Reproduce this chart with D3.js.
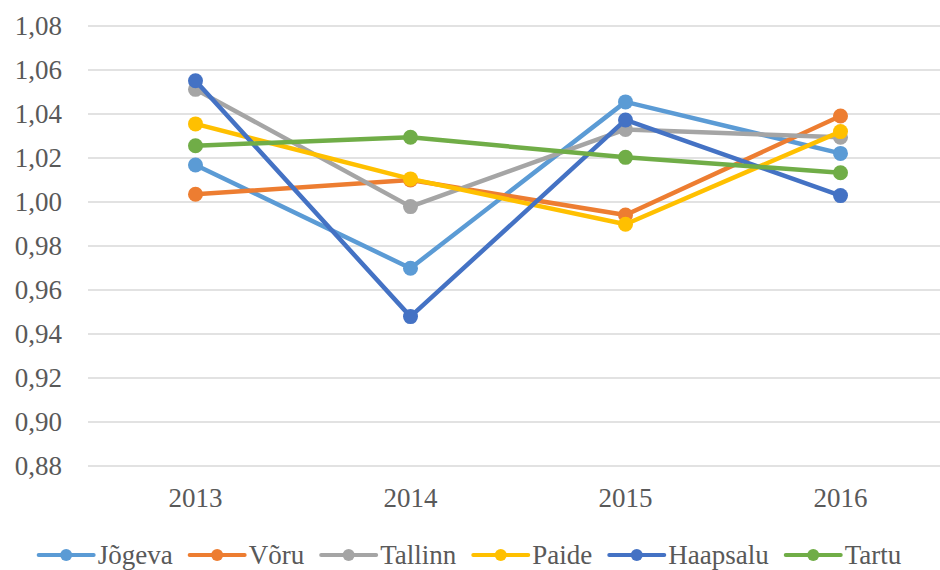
<!DOCTYPE html>
<html><head><meta charset="utf-8">
<script src="https://cdn.jsdelivr.net/npm/d3@7"></script>
<style>
html,body{margin:0;padding:0;background:#fff;}
#wrap{position:relative;width:940px;height:570px;overflow:hidden;}
#wrap svg{position:absolute;left:0;top:0;}
.lbl{position:absolute;font-family:"Liberation Serif",serif;font-size:27px;line-height:27px;color:#595959;white-space:nowrap;}
</style>
</head><body>
<div id="wrap"><svg id="chart" width="940" height="570"></svg></div>
<script>
const years = ["2013", "2014", "2015", "2016"];
const yTicks = [0.88, 0.90, 0.92, 0.94, 0.96, 0.98, 1.00, 1.02, 1.04, 1.06, 1.08];
const seriesNames = ["Jõgeva", "Võru", "Tallinn", "Paide", "Haapsalu", "Tartu"];
const seriesColors = ["#5B9BD5", "#ED7D31", "#A5A5A5", "#FFC000", "#4472C4", "#70AD47"];
const jogeva = [1.0168, 0.9699, 1.0455, 1.0221];
const voru = [1.0035, 1.0100, 0.9941, 1.0391];
const tallinn = [1.0512, 0.9979, 1.0330, 1.0294];
const paide = [1.0355, 1.0105, 0.9899, 1.0320];
const haapsalu = [1.0551, 0.9479, 1.0373, 1.0029];
const tartu = [1.0256, 1.0294, 1.0203, 1.0133];
const seriesValues = [jogeva, voru, tallinn, paide, haapsalu, tartu];

(function () {
const svg = d3.select("#chart");
const wrap = d3.select("#wrap");
const mLeft = 88, mRight = 948, mTop = 26, mBottom = 466;

const x = d3.scalePoint().domain(years).range([mLeft, mRight]).padding(0.5);
const y = d3.scaleLinear().domain([0.88, 1.08]).range([mBottom, mTop]);
const fmt = d => d3.format(".2f")(d).replace(".", ",");

// gridlines
svg.append("g").selectAll("line").data(yTicks).join("line")
  .attr("x1", mLeft).attr("x2", mRight)
  .attr("y1", d => y(d)).attr("y2", d => y(d))
  .attr("stroke", "#d9d9d9").attr("stroke-width", 1.5);

// y axis labels (HTML text, positioned with the scale)
wrap.selectAll("div.ylbl").data(yTicks).join("div")
  .attr("class", "lbl ylbl")
  .style("right", (940 - 62) + "px")
  .style("top", d => (y(d) - 13.5) + "px")
  .text(fmt);

// x axis labels
wrap.selectAll("div.xlbl").data(years).join("div")
  .attr("class", "lbl xlbl")
  .style("left", d => x(d) + "px")
  .style("top", "485px")
  .style("transform", "translateX(-50%)")
  .text(d => d);

// series
const line = d3.line().x((d, i) => x(years[i])).y(d => y(d));
seriesValues.forEach((vals, si) => {
  const g = svg.append("g");
  g.append("path").datum(vals).attr("d", line)
    .attr("fill", "none").attr("stroke", seriesColors[si])
    .attr("stroke-width", 4.5).attr("stroke-linejoin", "round").attr("stroke-linecap", "round");
  g.selectAll("circle").data(vals).join("circle")
    .attr("cx", (d, i) => x(years[i])).attr("cy", d => y(d))
    .attr("r", 7.5).attr("fill", seriesColors[si]);
});

// legend
const symW = 55, gapSym = 4, gapItem = 17, legY = 555;
const items = seriesNames.map((name, i) => {
  const lab = wrap.append("div").attr("class", "lbl").style("top", (legY - 13) + "px").text(name);
  const tw = lab.node().getBoundingClientRect().width;
  return {lab, w: symW + gapSym + tw, i};
});
const total = d3.sum(items, d => d.w) + gapItem * (items.length - 1);
let pos = 470 - total / 2;
const leg = svg.append("g");
items.forEach(it => {
  leg.append("line").attr("x1", pos).attr("x2", pos + symW).attr("y1", legY).attr("y2", legY)
    .attr("stroke", seriesColors[it.i]).attr("stroke-width", 4).attr("stroke-linecap", "round");
  leg.append("circle").attr("cx", pos + symW / 2).attr("cy", legY).attr("r", 6).attr("fill", seriesColors[it.i]);
  it.lab.style("left", (pos + symW + gapSym) + "px");
  pos += it.w + gapItem;
});
})();
</script>
</body></html>
